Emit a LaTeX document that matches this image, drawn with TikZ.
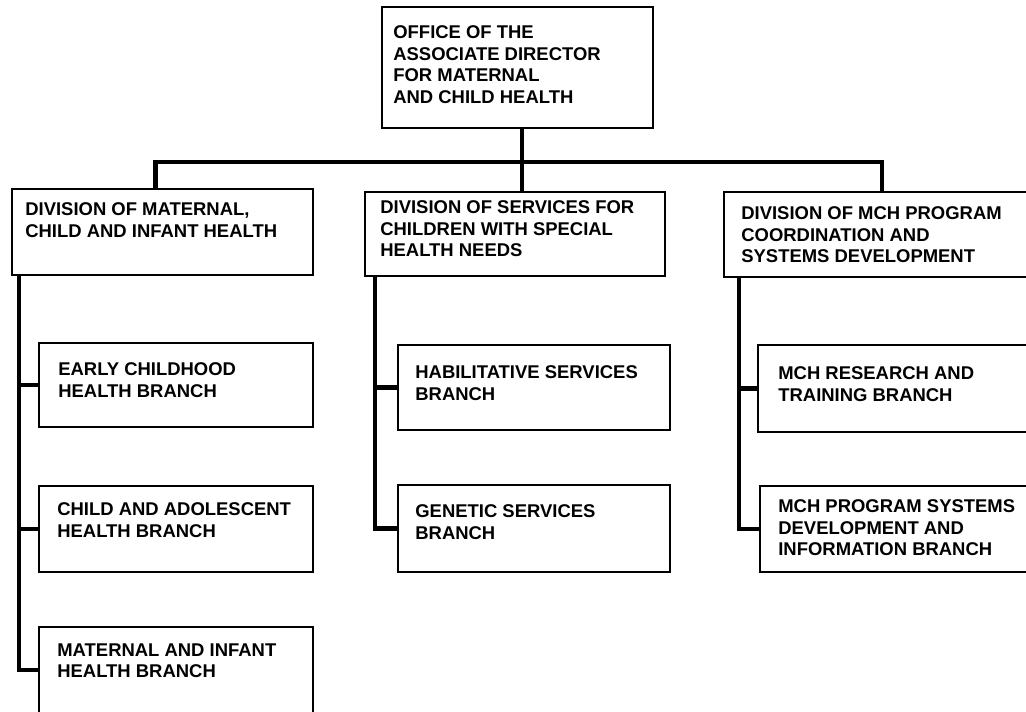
\documentclass[tikz,border=0pt]{standalone}
\usepackage{fontspec}
\setmainfont{Liberation Sans}
\usepackage{tikz}
\usetikzlibrary{positioning,calc}
\tikzstyle{box} = [draw, line width=1.3pt, rectangle, anchor=north west, inner sep=0pt, outer sep=0pt]
\tikzstyle{txt} = [anchor=north west, inner sep=0pt, align=left, font={\fontsize{10.5}{12.4}\selectfont\bfseries}]
\tikzstyle{conn} = [line width=2.6pt]

\begin{document}
\begin{tikzpicture}[x=0.02cm,y=-0.02cm]
\useasboundingbox (0,0) rectangle (1026,711);
% boxes
\node[box, minimum width=5.42cm, minimum height=2.42cm] (office) at (382,7) {};
\node[box, minimum width=6.02cm, minimum height=1.72cm] (dmcih) at (12,189) {};
\node[box, minimum width=6.00cm, minimum height=1.68cm] (dcshn) at (365,192) {};
\node[box, minimum width=6.32cm, minimum height=1.70cm] (dprog) at (724,192) {};
\node[box, minimum width=5.48cm, minimum height=1.68cm] (early) at (39,343) {};
\node[box, minimum width=5.48cm, minimum height=1.72cm] (adol) at (39,486) {};
\node[box, minimum width=5.48cm, minimum height=1.72cm] (matinf) at (39,627) {};
\node[box, minimum width=5.44cm, minimum height=1.70cm] (habil) at (398,345) {};
\node[box, minimum width=5.44cm, minimum height=1.74cm] (genet) at (398,485) {};
\node[box, minimum width=5.64cm, minimum height=1.74cm] (resch) at (758,345) {};
\node[box, minimum width=5.60cm, minimum height=1.72cm] (psys) at (760,486) {};

% texts
\node[txt] (office-t) at ([shift={(11,18)}]office.north west) {OFFICE OF THE\\ASSOCIATE DIRECTOR\\FOR MATERNAL\\AND CHILD HEALTH};
\node[txt] (dmcih-t) at ([shift={(13,13)}]dmcih.north west) {DIVISION OF MATERNAL,\\CHILD AND INFANT HEALTH};
\node[txt] (dcshn-t) at ([shift={(15,8)}]dcshn.north west) {DIVISION OF SERVICES FOR\\CHILDREN WITH SPECIAL\\HEALTH NEEDS};
\node[txt] (dprog-t) at ([shift={(17,14)}]dprog.north west) {DIVISION OF MCH PROGRAM\\COORDINATION AND\\SYSTEMS DEVELOPMENT};
\node[txt] (early-t) at ([shift={(19,19)}]early.north west) {EARLY CHILDHOOD\\HEALTH BRANCH};
\node[txt] (adol-t) at ([shift={(18,16)}]adol.north west) {CHILD AND ADOLESCENT\\HEALTH BRANCH};
\node[txt] (matinf-t) at ([shift={(18,16)}]matinf.north west) {MATERNAL AND INFANT\\HEALTH BRANCH};
\node[txt] (habil-t) at ([shift={(17,20)}]habil.north west) {HABILITATIVE SERVICES\\BRANCH};
\node[txt] (genet-t) at ([shift={(17,19)}]genet.north west) {GENETIC SERVICES\\BRANCH};
\node[txt] (resch-t) at ([shift={(20,21)}]resch.north west) {MCH RESEARCH AND\\TRAINING BRANCH};
\node[txt] (psys-t) at ([shift={(18,13)}]psys.north west) {MCH PROGRAM SYSTEMS\\DEVELOPMENT AND\\INFORMATION BRANCH};

% lines
\coordinate (bus) at ([xshift=0.09cm]office.south |- 0,162);
\draw[conn] ([xshift=0.09cm]office.south) -- (bus |- dcshn.north);
\draw[conn] ([xshift=-0.14cm]dmcih.north) |- (bus) -| (dprog.north);
\draw[conn] ([xshift=0.14cm]dmcih.south west) |- (early.west);
\draw[conn] ([xshift=0.14cm]dmcih.south west) |- (adol.west);
\draw[conn] ([xshift=0.14cm]dmcih.south west) |- (matinf.west);
\draw[conn] ([xshift=0.2cm]dcshn.south west) |- (habil.west);
\draw[conn] ([xshift=0.2cm]dcshn.south west) |- (genet.west);
\draw[conn] ([xshift=0.3cm]dprog.south west) |- (resch.west);
\draw[conn] ([xshift=0.3cm]dprog.south west) |- (psys.west);
\end{tikzpicture}
\end{document}
